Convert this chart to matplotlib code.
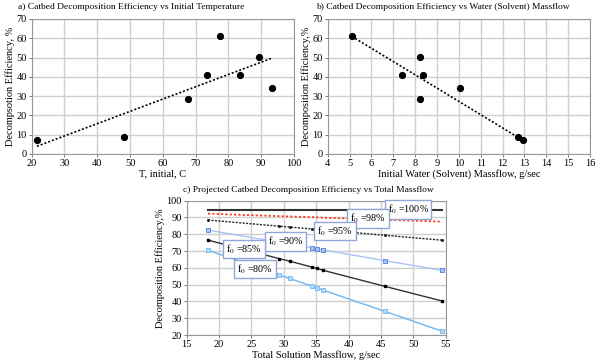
import numpy as np
import matplotlib.pyplot as plt

plt.rcParams['font.family'] = ['Liberation Serif', 'DejaVu Serif']
plt.rcParams['mathtext.fontset'] = 'stix'

# a) efficiency vs initial temperature
temp_c = [21.6, 48.3, 67.6, 73.5, 77.3, 83.6, 89.3, 93.2]
eff_a = [7.0, 9.0, 28.5, 41.0, 61.0, 41.0, 50.5, 34.0]
trend_a_x = [21.6, 93.0]
trend_a_y = [4.0, 49.5]

# b) efficiency vs water massflow
water_gs = [5.1, 7.4, 8.2, 8.2, 8.35, 10.05, 12.7, 12.95]
eff_b = [61.0, 41.0, 50.5, 28.5, 40.8, 34.0, 9.0, 7.0]
trend_b_x = [5.1, 12.8]
trend_b_y = [61.0, 8.0]

# c) projected efficiency vs total massflow
total_gs = [18.3, 29.3, 30.9, 34.3, 35.1, 36.1, 45.6, 54.4]
f100 = [94.5, 94.5, 94.5, 94.5, 94.5, 94.5, 94.5, 94.5]
f98 = [92.3, 90.8, 90.6, 90.2, 90.1, 89.9, 88.7, 87.5]
f95 = [88.5, 84.8, 84.3, 83.2, 82.9, 82.6, 79.4, 76.5]
f90 = [82.5, 75.2, 74.1, 71.9, 71.3, 70.7, 64.3, 58.5]
f85 = [76.5, 65.5, 64.0, 60.5, 59.7, 58.5, 49.0, 40.3]
f80 = [70.5, 55.8, 53.7, 49.1, 48.1, 46.7, 34.1, 22.3]
labels_c = ['f$_0$ =100%', 'f$_0$ =98%', 'f$_0$ =95%', 'f$_0$ =90%', 'f$_0$ =85%', 'f$_0$ =80%']
label_x = [49.2, 43.0, 37.9, 30.3, 23.85, 25.55]
label_y = [94.8, 89.5, 82.0, 75.6, 71.2, 59.3]

FS = 6.8
TFS = 7.5
SPINE = '#9a9a9a'
GRID = '#cfcfcf'


def style(ax):
    for s in ax.spines.values():
        s.set_color(SPINE)
        s.set_linewidth(0.8)
    ax.tick_params(labelsize=TFS, length=2.5, width=0.6, color='#666666', pad=1)
    ax.grid(True, color=GRID, linewidth=1.0)
    ax.set_axisbelow(True)


fig = plt.figure(figsize=(6.06, 3.63), dpi=100)

ax1 = fig.add_axes([0.0523, 0.5758, 0.4327, 0.3719])
ax1.plot(temp_c, eff_a, 'o', color='black', markersize=4.2)
ax1.plot(trend_a_x, trend_a_y, color='black', linestyle=(0, (1.2, 1.2)), linewidth=1.2)
ax1.set_xlim(20, 100)
ax1.set_ylim(0, 70)
ax1.set_xticks(np.arange(20, 101, 10))
ax1.set_yticks(np.arange(0, 71, 10))
ax1.set_xlabel('T, initial, C', fontsize=TFS, labelpad=1)
ax1.set_ylabel('Decompsotion Efficiency, %', fontsize=TFS, labelpad=1)
style(ax1)
fig.text(0.03, 0.982, 'a) Catbed Decomposition Efficiency vs Initial Temperature', fontsize=FS, va='center')

ax2 = fig.add_axes([0.5408, 0.5758, 0.4328, 0.3719])
ax2.plot(water_gs, eff_b, 'o', color='black', markersize=4.2)
ax2.plot(trend_b_x, trend_b_y, color='black', linestyle=(0, (1.2, 1.2)), linewidth=1.2)
ax2.set_xlim(4, 16)
ax2.set_ylim(0, 70)
ax2.set_xticks(np.arange(4, 17, 1))
ax2.set_yticks(np.arange(0, 71, 10))
ax2.set_xlabel('Initial Water (Solvent) Massflow, g/sec', fontsize=TFS, labelpad=1)
ax2.set_ylabel('Decomposition Efficiency,%', fontsize=TFS, labelpad=1)
style(ax2)
fig.text(0.522, 0.982, 'b) Catbed Decomposition Efficiency vs Water (Solvent) Massflow', fontsize=FS, va='center')

ax3 = fig.add_axes([0.308, 0.0771, 0.4275, 0.37])
ax3.plot(total_gs, f100, color='#333333', linewidth=1.5)
ax3.plot(total_gs, f98, color='#ff3b1f', linestyle=(0, (1.2, 1.2)), linewidth=1.3)
ax3.plot(total_gs, f95, color='#222222', linestyle=(0, (1.5, 1.0)), linewidth=1.0,
         marker='o', markersize=1.2)
ax3.plot(total_gs, f90, color='#a9c4f5', linewidth=1.0,
         marker='s', markersize=2.5, markerfacecolor='#a9c4f5', markeredgecolor='#4a7fe0', markeredgewidth=0.6)
ax3.plot(total_gs, f85, color='#333333', linewidth=1.0, marker='s', markersize=2.0,
         markerfacecolor='black', markeredgecolor='black')
ax3.plot(total_gs, f80, color='#6cb6f2', linewidth=1.0,
         marker='s', markersize=2.2, markerfacecolor='#b7dcfb', markeredgecolor='#6cb6f2', markeredgewidth=0.6)
for t, x, y in zip(labels_c, label_x, label_y):
    ax3.text(x, y, t, fontsize=FS + 0.5, ha='center', va='center',
             bbox=dict(boxstyle='square,pad=0.25', facecolor='white', edgecolor='#8fa6d6', linewidth=1.0))
ax3.set_xlim(15, 55)
ax3.set_ylim(20, 100)
ax3.set_xticks(np.arange(15, 56, 5))
ax3.set_yticks(np.arange(20, 101, 10))
ax3.set_xlabel('Total Solution Massflow, g/sec', fontsize=TFS, labelpad=1)
ax3.set_ylabel('Decomposition Efficiency,%', fontsize=TFS, labelpad=1)
style(ax3)
fig.text(0.302, 0.477, 'c) Projected Catbed Decomposition Efficiency vs Total Massflow', fontsize=FS, va='center')

fig.savefig('out.png', dpi=100)
